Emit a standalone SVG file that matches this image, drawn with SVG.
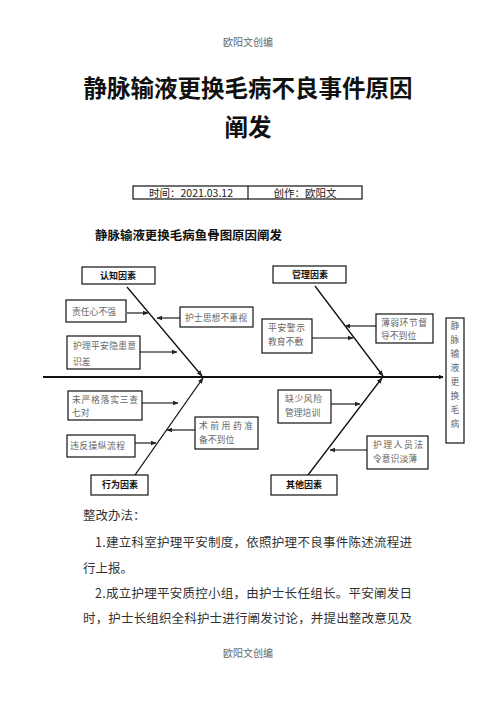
<svg xmlns="http://www.w3.org/2000/svg" width="496" height="702" viewBox="0 0 496 702">
<defs>
<style>
.hdr{font-family:"Noto Sans CJK SC","Liberation Serif",serif;font-size:10px;fill:#666;text-anchor:middle}
.title{font-family:"Noto Sans CJK SC","Liberation Sans",sans-serif;font-size:23.5px;font-weight:bold;fill:#111;text-anchor:middle}
.sub{font-family:"Noto Sans CJK SC","Liberation Sans",sans-serif;font-size:12.5px;font-weight:bold;fill:#111}
.tbl{font-family:"Noto Sans CJK SC","Liberation Sans",sans-serif;font-size:10.5px;fill:#222;text-anchor:middle}
.box{fill:#fff;stroke:#111;stroke-width:1.2}
.cat{font-family:"Noto Sans CJK SC","Liberation Sans",sans-serif;font-size:9px;font-weight:bold;fill:#111;text-anchor:middle}
.bt{font-family:"Noto Sans CJK SC","Liberation Serif",serif;font-size:8.8px;fill:#666}
.body{font-family:"Noto Sans CJK SC","Liberation Serif",serif;font-size:12.5px;fill:#333}
.spine{stroke:#111;stroke-width:2;fill:none}
.bone{stroke:#111;stroke-width:1.3;fill:none}
.sub-arrow{stroke:#555;stroke-width:1.6;fill:none}
</style>
<marker id="ah" viewBox="0 0 10 10" refX="9" refY="5" markerWidth="5" markerHeight="5" orient="auto" markerUnits="userSpaceOnUse">
<path d="M0,0 L10,5 L0,10 z" fill="#111"/>
</marker>
<marker id="ahs" viewBox="0 0 10 10" refX="9" refY="5" markerWidth="6" markerHeight="6" orient="auto" markerUnits="userSpaceOnUse">
<path d="M0,1 L10,5 L0,9 z" fill="#222"/>
</marker>
</defs>
<rect width="496" height="702" fill="#fff"/>

<text class="hdr" x="248" y="46">欧阳文创编</text>
<text class="title" x="248" y="97">静脉输液更换毛病不良事件原因</text>
<text class="title" x="248" y="136">阐发</text>

<g id="info-table">
<rect x="133" y="186" width="229" height="13" fill="none" stroke="#111" stroke-width="1.2"/>
<line x1="248" y1="186" x2="248" y2="199" stroke="#111" stroke-width="1.2"/>
<text class="tbl" x="191" y="196.5">时间：2021.03.12</text>
<text class="tbl" x="305" y="196.5">创作：欧阳文</text>
</g>

<text class="sub" x="95" y="239.5" textLength="187" lengthAdjust="spacingAndGlyphs">静脉输液更换毛病鱼骨图原因阐发</text>

<g id="connectors">
<line class="spine" x1="43" y1="377" x2="443" y2="377" marker-end="url(#ah)"/>
<line class="bone" x1="127" y1="287" x2="202" y2="376" marker-end="url(#ahs)"/>
<line class="bone" x1="315" y1="286" x2="383" y2="376" marker-end="url(#ahs)"/>
<line class="bone" x1="135" y1="475" x2="203" y2="378" marker-end="url(#ahs)"/>
<line class="bone" x1="308" y1="475" x2="382" y2="378" marker-end="url(#ahs)"/>
<line class="sub-arrow" x1="127" y1="313" x2="148" y2="313" marker-end="url(#ahs)"/>
<line class="sub-arrow" x1="180" y1="318" x2="157" y2="318" marker-end="url(#ahs)"/>
<line class="sub-arrow" x1="140" y1="352" x2="177" y2="352" marker-end="url(#ahs)"/>
<line class="sub-arrow" x1="312" y1="338" x2="353" y2="338" marker-end="url(#ahs)"/>
<line class="sub-arrow" x1="376" y1="326" x2="345" y2="326" marker-end="url(#ahs)"/>
<line class="sub-arrow" x1="142" y1="403" x2="178" y2="403" marker-end="url(#ahs)"/>
<line class="sub-arrow" x1="135" y1="443" x2="156" y2="443" marker-end="url(#ahs)"/>
<line class="sub-arrow" x1="195" y1="430" x2="167" y2="430" marker-end="url(#ahs)"/>
<line class="sub-arrow" x1="331" y1="404" x2="360" y2="404" marker-end="url(#ahs)"/>
<line class="sub-arrow" x1="367" y1="450" x2="330" y2="450" marker-end="url(#ahs)"/>
</g>

<g id="head">
<rect class="box" x="446" y="318" width="18" height="125"/>
<text class="bt" x="455" text-anchor="middle"><tspan x="455" y="329">静</tspan><tspan x="455" y="343">脉</tspan><tspan x="455" y="357">输</tspan><tspan x="455" y="371">液</tspan><tspan x="455" y="385">更</tspan><tspan x="455" y="399">换</tspan><tspan x="455" y="413">毛</tspan><tspan x="455" y="427">病</tspan></text>
</g>

<g id="cat-cognition">
<rect class="box" x="82" y="267" width="73" height="17"/>
<text class="cat" x="118" y="279">认知因素</text>
</g>
<g id="cat-management">
<rect class="box" x="273" y="266" width="73" height="17"/>
<text class="cat" x="310" y="278">管理因素</text>
</g>
<g id="cat-behavior">
<rect class="box" x="91" y="475" width="57" height="20"/>
<text class="cat" x="120" y="488">行为因素</text>
</g>
<g id="cat-other">
<rect class="box" x="271" y="475" width="66" height="20"/>
<text class="cat" x="304" y="488">其他因素</text>
</g>

<g id="c1">
<rect class="box" x="66" y="300" width="60" height="22"/>
<text class="bt" x="72" y="314.5" textLength="44" lengthAdjust="spacing">责任心不强</text>
</g>
<g id="c2">
<rect class="box" x="180" y="307" width="73" height="20"/>
<text class="bt" x="185" y="320.5" textLength="62" lengthAdjust="spacing">护士思想不重视</text>
</g>
<g id="c3">
<rect class="box" x="67" y="336" width="73" height="33"/>
<text class="bt" x="73" y="348.5" textLength="63" lengthAdjust="spacing">护理平安隐患意</text>
<text class="bt" x="73" y="364.5">识差</text>
</g>
<g id="m1">
<rect class="box" x="262" y="319" width="50" height="34"/>
<text class="bt" x="268" y="331" textLength="37" lengthAdjust="spacing">平安警示</text>
<text class="bt" x="268" y="344.5">教育不敷</text>
</g>
<g id="m2">
<rect class="box" x="376" y="314" width="57" height="29"/>
<text class="bt" x="381" y="325.5" textLength="46" lengthAdjust="spacing">薄弱环节督</text>
<text class="bt" x="381" y="338.5">导不到位</text>
</g>
<g id="b1">
<rect class="box" x="68" y="391" width="74" height="29"/>
<text class="bt" x="72" y="402.5" textLength="66" lengthAdjust="spacing">未严格落实三查</text>
<text class="bt" x="72" y="415.5">七对</text>
</g>
<g id="b2">
<rect class="box" x="67" y="435" width="68" height="22"/>
<text class="bt" x="70" y="448.5" textLength="55" lengthAdjust="spacing">违反操纵流程</text>
</g>
<g id="b3">
<rect class="box" x="195" y="417" width="63" height="32"/>
<text class="bt" x="199" y="429" textLength="54" lengthAdjust="spacing">术前用药准</text>
<text class="bt" x="199" y="442.5">备不到位</text>
</g>
<g id="o1">
<rect class="box" x="278" y="390" width="53" height="33"/>
<text class="bt" x="285" y="402" textLength="37" lengthAdjust="spacing">缺少风险</text>
<text class="bt" x="285" y="415.5">管理培训</text>
</g>
<g id="o2">
<rect class="box" x="367" y="436" width="61" height="33"/>
<text class="bt" x="373" y="448" textLength="50" lengthAdjust="spacing">护理人员法</text>
<text class="bt" x="373" y="461.5">令意识淡薄</text>
</g>

<text class="body" x="83" y="519.5">整改办法：</text>
<text class="body" x="95" y="546.5" textLength="317" lengthAdjust="spacing">1.建立科室护理平安制度，依照护理不良事件陈述流程进</text>
<text class="body" x="83" y="572.5">行上报。</text>
<text class="body" x="95" y="597.5" textLength="317" lengthAdjust="spacing">2.成立护理平安质控小组，由护士长任组长。平安阐发日</text>
<text class="body" x="83" y="622.5" textLength="329" lengthAdjust="spacing">时，护士长组织全科护士进行阐发讨论，并提出整改意见及</text>

<text class="hdr" x="248" y="657">欧阳文创编</text>
</svg>
